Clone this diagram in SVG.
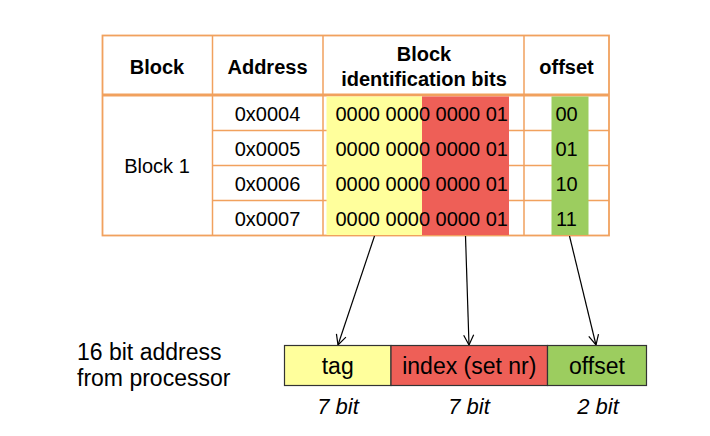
<svg xmlns="http://www.w3.org/2000/svg" width="710" height="436" viewBox="0 0 710 436">
<defs>
<style>
text{font-family:"Liberation Sans",Arial,sans-serif;fill:#000}
.h{font-size:20px;font-weight:bold;text-anchor:middle}
.b{font-size:20px}
.m{text-anchor:middle}
.grid{stroke:#F1A15E;fill:none}
.box{stroke:#333;stroke-width:1.2}
.lbl{font-size:23px;text-anchor:middle}
.bits{font-size:22px;font-style:italic;text-anchor:middle}
.arr{stroke:#000;stroke-width:1.2;fill:none;marker-end:url(#ah)}
</style>
<marker id="ah" viewBox="0 0 12 12" refX="11" refY="6" markerWidth="12" markerHeight="12" markerUnits="userSpaceOnUse" orient="auto">
<path d="M1,1 L11,6 L1,11" fill="none" stroke="#000" stroke-width="1.2"/>
</marker>
</defs>
<rect width="710" height="436" fill="#fff"/>
<g id="table">
<g id="grid-lines" class="grid">
<rect x="102.5" y="35.5" width="506.5" height="200" stroke-width="1.8"/>
<line x1="212.5" y1="35.5" x2="212.5" y2="235.5" stroke-width="1.5"/>
<line x1="323" y1="35.5" x2="323" y2="235.5" stroke-width="1.5"/>
<line x1="524" y1="35.5" x2="524" y2="235.5" stroke-width="1.5"/>
<line x1="212.5" y1="130.5" x2="609" y2="130.5" stroke-width="1.5"/>
<line x1="212.5" y1="165.5" x2="609" y2="165.5" stroke-width="1.5"/>
<line x1="212.5" y1="200.5" x2="609" y2="200.5" stroke-width="1.5"/>
<line x1="102.5" y1="95" x2="609" y2="95" stroke-width="3"/>
</g>
<g id="fills">
<rect x="326.5" y="96.5" width="95.5" height="138.5" fill="#FFFF9C"/>
<rect x="422" y="96.5" width="87" height="138.5" fill="#EE5F57"/>
<rect x="551.5" y="96.5" width="37" height="138.5" fill="#9CCD5F"/>
</g>
<g id="header">
<text class="h" x="157" y="74">Block</text>
<text class="h" x="267.5" y="74">Address</text>
<text class="h" x="424" y="61">Block</text>
<text class="h" x="424" y="86">identification bits</text>
<text class="h" x="566.5" y="74">offset</text>
</g>
<g id="block1">
<text class="b m" x="157" y="173">Block 1</text>
</g>
<g id="row-0x0004">
<text class="b m" x="267.5" y="120.5">0x0004</text>
<text class="b" x="335.5" y="120.5">0000 0000 0000 01</text>
<text class="b m" x="566.5" y="120.5">00</text>
</g>
<g id="row-0x0005">
<text class="b m" x="267.5" y="155.5">0x0005</text>
<text class="b" x="335.5" y="155.5">0000 0000 0000 01</text>
<text class="b m" x="566.5" y="155.5">01</text>
</g>
<g id="row-0x0006">
<text class="b m" x="267.5" y="190.5">0x0006</text>
<text class="b" x="335.5" y="190.5">0000 0000 0000 01</text>
<text class="b m" x="566.5" y="190.5">10</text>
</g>
<g id="row-0x0007">
<text class="b m" x="267.5" y="225.5">0x0007</text>
<text class="b" x="335.5" y="225.5">0000 0000 0000 01</text>
<text class="b m" x="566.5" y="225.5">11</text>
</g>
</g>
<g id="connectors">
<line class="arr" x1="374.5" y1="236" x2="338" y2="345"/>
<line class="arr" x1="465.5" y1="236" x2="469" y2="345"/>
<line class="arr" x1="569.5" y1="236" x2="596" y2="345"/>
</g>
<g id="address-label">
<text x="77" y="360" font-size="23">16 bit address</text>
<text x="77" y="386" font-size="23">from processor</text>
</g>
<g id="tag">
<rect class="box" x="284.5" y="345.5" width="106.5" height="40" fill="#FFFF9C"/>
<text class="lbl" x="337.7" y="374">tag</text>
<text class="bits" x="338" y="414">7 bit</text>
</g>
<g id="index">
<rect class="box" x="391" y="345.5" width="156.5" height="40" fill="#EE5F57"/>
<text class="lbl" x="469.3" y="374">index (set nr)</text>
<text class="bits" x="469" y="414">7 bit</text>
</g>
<g id="offset">
<rect class="box" x="547.5" y="345.5" width="99" height="40" fill="#9CCD5F"/>
<text class="lbl" x="597" y="374">offset</text>
<text class="bits" x="598" y="414">2 bit</text>
</g>
</svg>
